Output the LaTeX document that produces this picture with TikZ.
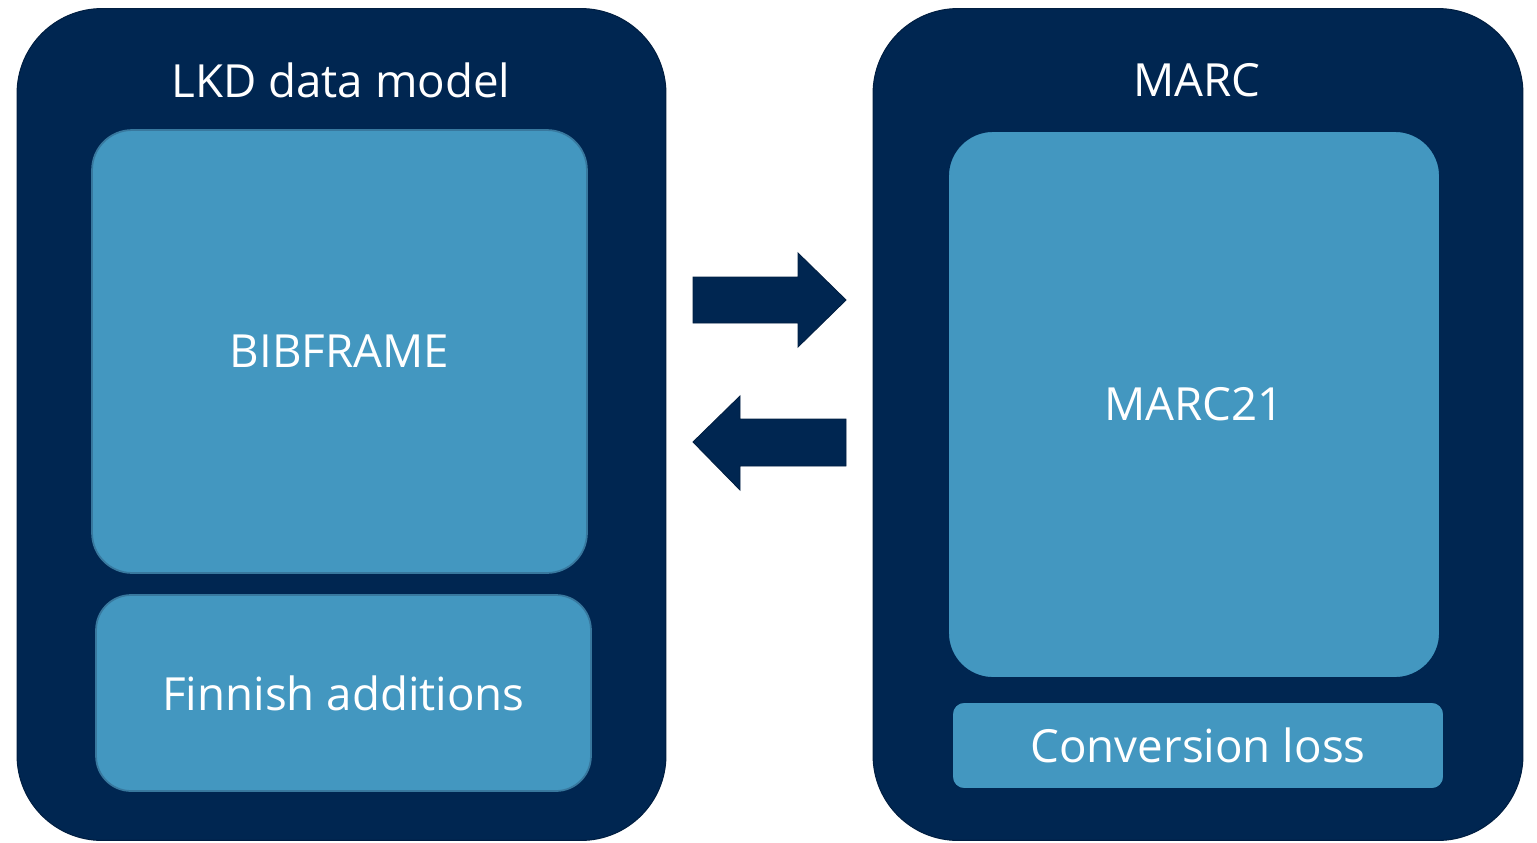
\documentclass[tikz,border=0pt]{standalone}
\usepackage{fontspec}
\setmainfont{Open Sans}
\usepackage{tikz}
\usepackage{xcolor}
\definecolor{navy}{RGB}{0,38,81}
\definecolor{lightblue}{RGB}{67,151,192}
\definecolor{edgeblue}{RGB}{56,120,158}

\begin{document}
\begin{tikzpicture}[x=0.02cm, y=-0.02cm,
		outer/.style={fill=navy, draw=navy!80!black, line width=0.6pt, rounded corners=1.7cm, inner sep=0pt},
		inner/.style={fill=lightblue, draw=edgeblue, line width=1pt, inner sep=0pt, text=white, font=\fontsize{26}{30}\selectfont},
		title/.style={text=white, font=\fontsize{26}{30}\selectfont},
		arrowshape/.style={fill=navy, draw=navy!80!black, line width=0.5pt}]
	\useasboundingbox (0,0) rectangle (1537,842);
	% the two sides
	\node[outer, minimum width=12.98cm, minimum height=16.64cm] (lkd) at (341.5,424.5) {};
	\node[outer, minimum width=13cm, minimum height=16.64cm] (marc) at (1198,424.5) {};
	\node[title] (lkdtitle) at (341,80) {LKD data model};
	\node[title] (marctitle) at (1197,80) {MARC};
	% inner boxes
	\node[inner, rounded corners=0.8cm, minimum width=9.9cm, minimum height=8.86cm] (bibframe) at (339.5,351.5) {BIBFRAME};
	\node[inner, rounded corners=0.7cm, minimum width=9.9cm, minimum height=3.92cm] (finnish) at (343.5,693) {Finnish additions};
	\node[inner, draw=navy, rounded corners=0.9cm, minimum width=9.84cm, minimum height=10.94cm] (marc21) at (1194,404.5) {MARC21};
	\node[inner, draw=navy, rounded corners=0.24cm, minimum width=9.84cm, minimum height=1.74cm] (loss) at (1198,745.5) {Conversion loss};
	% arrows
	\draw[arrowshape] (693,277) -- (798,277) -- (798,253) -- (846,300) -- (798,347) -- (798,323) -- (693,323) -- cycle;
	\draw[arrowshape] (846,419) -- (740,419) -- (740,396) -- (693,442) -- (740,490) -- (740,466) -- (846,466) -- cycle;
\end{tikzpicture}
\end{document}
